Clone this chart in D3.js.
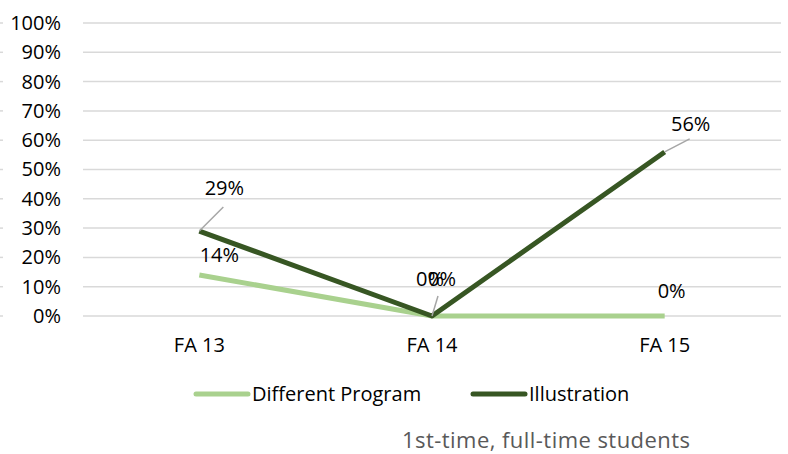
<!DOCTYPE html>
<html><head><meta charset="utf-8">
<script src="https://cdn.jsdelivr.net/npm/d3@7"></script>
<style>body{margin:0;background:#fff}svg{display:block;font-family:"Open Sans",sans-serif}</style>
</head><body><svg id="c" width="788" height="454"></svg>
<script>
const categories = ["FA 13","FA 14","FA 15"];
const seriesNames = ["Different Program","Illustration"];
const differentProgram = [0.14, 0, 0];
const illustration = [0.29, 0, 0.56];
const yTicks = [0,0.1,0.2,0.3,0.4,0.5,0.6,0.7,0.8,0.9,1.0];
const subtitle = "1st-time, full-time students";

const colors = ["#A9D18E","#375623"];
const FS = 20;
const svg = d3.select("#c");
const x = d3.scaleBand().domain(categories).range([83,781]);
const y = d3.scaleLinear().domain([0,1]).range([316,23]);
const fmt = d3.format(".0%");

// gridlines
svg.append("g").selectAll("line").data(yTicks).join("line")
  .attr("x1",83).attr("x2",781).attr("y1",d=>y(d)).attr("y2",d=>y(d))
  .attr("stroke","#d9d9d9").attr("stroke-width",1.5);
svg.append("g").selectAll("line").data(yTicks).join("line")
  .attr("x1",0).attr("x2",3).attr("y1",d=>y(d)).attr("y2",d=>y(d))
  .attr("stroke","#d9d9d9").attr("stroke-width",1.5);

// y axis labels
const yAxis = svg.append("g").attr("transform","translate(61,0)")
  .call(d3.axisLeft(y).tickValues(yTicks).tickFormat(fmt).tickSize(0).tickPadding(0));
yAxis.select(".domain").remove();
yAxis.selectAll("text").attr("font-size",FS).attr("fill","#000").attr("font-family","Open Sans");

// x axis labels
const xAxis = svg.append("g").attr("transform","translate(0,352)")
  .call(d3.axisBottom(x).tickSize(0).tickPadding(0));
xAxis.select(".domain").remove();
xAxis.selectAll("text").attr("font-size",FS).attr("fill","#000").attr("font-family","Open Sans").attr("y",0).attr("dy",0);

const cx = d => x(d)+x.bandwidth()/2;
const line = d3.line().x((d,i)=>cx(categories[i])).y(d=>y(d));
const data = [differentProgram, illustration];
svg.append("g").selectAll("path").data(data).join("path")
  .attr("d",line).attr("fill","none").attr("stroke",(d,i)=>colors[i])
  .attr("stroke-width",5).attr("stroke-linejoin","round");

// data labels with leader lines
const labels = [
  {s:0,i:0,dx:20,dy:-13,leader:false},
  {s:0,i:1,dx:-2,dy:-30,leader:false},
  {s:0,i:2,dx:7,dy:-18,leader:false},
  {s:1,i:0,dx:25,dy:-36,leader:true,lx:24,ly:-24},
  {s:1,i:1,dx:10,dy:-30,leader:true,lx:6,ly:-20},
  {s:1,i:2,dx:26,dy:-21,leader:true,lx:25,ly:-13}
];
const lg = svg.append("g");
labels.forEach(l=>{
  const v = data[l.s][l.i];
  const px = cx(categories[l.i]), py = y(v);
  if(l.leader){
    lg.append("line").attr("x1",px).attr("y1",py).attr("x2",px+l.lx).attr("y2",py+l.ly)
      .attr("stroke","#a6a6a6").attr("stroke-width",1.5);
  }
  lg.append("text").attr("x",px+l.dx).attr("y",py+l.dy).attr("text-anchor","middle")
    .attr("font-size",FS).attr("fill","#000").text(fmt(v));
});

// legend
const leg = svg.append("g");
const legX = [196,473];
seriesNames.forEach((n,i)=>{
  leg.append("line").attr("x1",legX[i]).attr("x2",legX[i]+52).attr("y1",394).attr("y2",394)
    .attr("stroke",colors[i]).attr("stroke-width",5).attr("stroke-linecap","round");
  leg.append("text").attr("x",legX[i]+56).attr("y",401).attr("font-size",FS).attr("fill","#000").text(n);
});

svg.append("text").attr("x",402).attr("y",448).attr("font-size",22).attr("fill","#595959")
  .attr("textLength",288).attr("lengthAdjust","spacing").text(subtitle);
</script></body></html>
